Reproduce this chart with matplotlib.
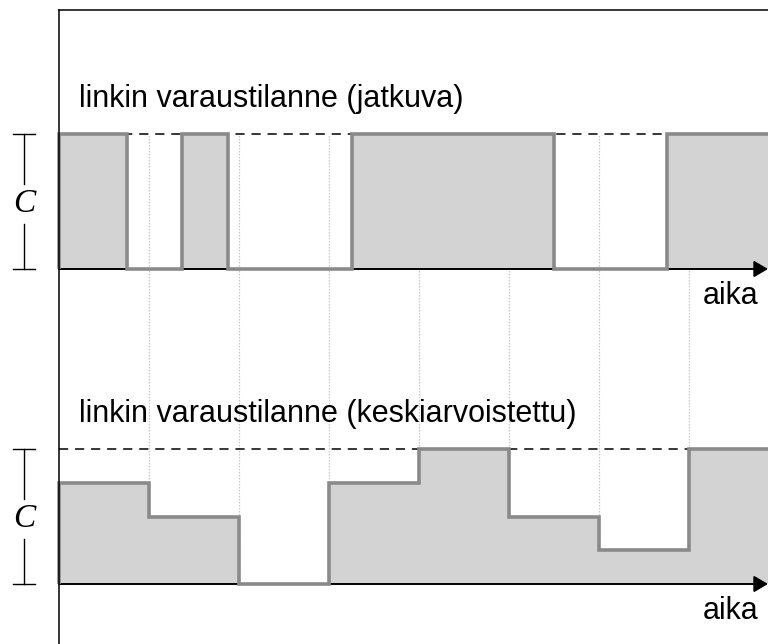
import numpy as np
import matplotlib
matplotlib.use("Agg")
import matplotlib.pyplot as plt

# ---- data (time in averaging-interval units, load in units of capacity C) ----
busy_edges = [0, 0.75, 1.37, 1.88, 3.25, 5.5, 6.75, 8.0]
busy_levels = [1, 0, 1, 0, 1, 0, 1]
avg_edges = [0, 1, 2, 3, 4, 5, 6, 7, 8]
avg_load = [0.75, 0.5, 0, 0.75, 1, 0.5, 0.25, 1]
interval_marks = [1, 2, 3, 4, 5, 6, 7]
title_top = "linkin varaustilanne (jatkuva)"
title_bottom = "linkin varaustilanne (keskiarvoistettu)"
axis_label = "aika"
cap_label = "C"

# ---- layout ----
W, H, DPI = 768, 644, 100
px_t = 90.0          # pixels per interval
px_y = 135.0         # pixels per capacity unit
x0_px, base_low_px = 59, 584
upper_off = (base_low_px - 269) / px_y

def tx(px):
    return (px - x0_px) / px_t

def ty(py):
    return (base_low_px - py) / px_y

fig = plt.figure(figsize=(W / DPI, H / DPI), dpi=DPI)
ax = fig.add_axes([0, 0, 1, 1])
ax.set_xlim(tx(0), tx(W))
ax.set_ylim(ty(H), ty(0))
ax.axis("off")

fill_c = "#d3d3d3"
line_c = "#8a8a8a"
sans = ["Liberation Sans", "DejaVu Sans"]
fs = 22
xmax = tx(W)

# dotted interval markers
for m in interval_marks:
    ax.plot([m, m], [0, upper_off + 1], color="#c8c8c8", lw=0.9,
            linestyle=(0, (1.2, 1.2)), zorder=1)

for off, edges, vals in [(upper_off, busy_edges, busy_levels),
                         (0.0, avg_edges, avg_load)]:
    v = np.asarray(vals, float) + off
    ax.stairs(v, edges, baseline=off, fill=True, color=fill_c, lw=0, zorder=2)
    # capacity dashed line
    ax.plot([0, xmax], [off + 1, off + 1], color="black", lw=1.1,
            linestyle=(0, (6, 4.5)), zorder=3)
    # time axis with arrow
    ax.annotate("", xy=(tx(768), off), xytext=(0, off),
                arrowprops=dict(arrowstyle="-|>,head_length=0.85,head_width=0.5",
                                color="black", lw=1.4, shrinkA=0, shrinkB=0),
                zorder=4)
    ax.stairs(v, edges, baseline=off, fill=False, color=line_c, lw=2.6,
              zorder=5, joinstyle="miter")
    ax.text(tx(759), off - 0.26, axis_label, ha="right", va="baseline",
            fontsize=fs, family=sans, zorder=6)
    # C bracket
    bx = tx(24)
    hw = 11 / px_t
    ax.plot([bx - hw, bx + hw], [off + 1, off + 1], color="black", lw=1.0)
    ax.plot([bx - hw, bx + hw], [off, off], color="black", lw=1.0)
    ax.plot([bx, bx], [off + 1, off + 0.63], color="black", lw=1.0)
    ax.plot([bx, bx], [off + 0.33, off], color="black", lw=1.0)
    ax.text(bx, off + 0.48, cap_label, ha="center", va="center",
            fontsize=24, family=["Liberation Serif", "DejaVu Serif"],
            style="italic")

ax.text(tx(79), ty(107), title_top, ha="left", va="baseline",
        fontsize=fs, family=sans)
ax.text(tx(79), ty(422), title_bottom, ha="left", va="baseline",
        fontsize=fs, family=sans)

# frame
ax.plot([0, 0], [ty(10), ty(H + 5)], color="black", lw=1.1, zorder=7,
        solid_capstyle="projecting")
ax.plot([0, xmax + 1], [ty(10), ty(10)], color="black", lw=1.1, zorder=7)

fig.savefig("out.png", dpi=DPI)
